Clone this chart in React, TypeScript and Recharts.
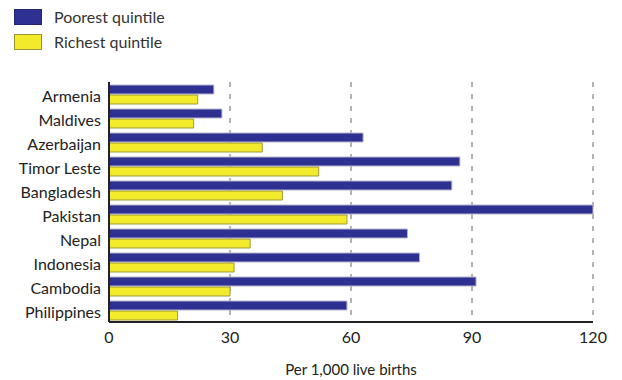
import React from 'react';
import { BarChart, Bar, XAxis, YAxis, CartesianGrid } from 'recharts';

const countries = [
  'Armenia', 'Maldives', 'Azerbaijan', 'Timor Leste', 'Bangladesh',
  'Pakistan', 'Nepal', 'Indonesia', 'Cambodia', 'Philippines',
];
const poorest = [26, 28, 63, 87, 85, 120, 74, 77, 91, 59];
const richest = [22, 21, 38, 52, 43, 59, 35, 31, 30, 17];
const xTicks = [0, 30, 60, 90, 120];

const BLUE = '#2e3192';
const YELLOW = '#f4ea2c';
const FONT = 'Lato, "Open Sans", sans-serif';

const chartData = countries.map((name, i) => ({
  name,
  poorest: poorest[i],
  richest: richest[i],
}));

const legendItems = [
  { label: 'Poorest quintile', fill: BLUE, border: '#23266e' },
  { label: 'Richest quintile', fill: YELLOW, border: '#9c9434' },
];

const LegendBox = () => (
  <div
    style={{
      position: 'absolute',
      left: 14,
      top: 4,
      fontFamily: FONT,
      fontSize: 16,
      color: '#333',
    }}
  >
    {legendItems.map(item => (
      <div key={item.label} style={{ display: 'flex', alignItems: 'center', height: 25 }}>
        <span
          style={{
            display: 'inline-block',
            width: 26,
            height: 14,
            background: item.fill,
            border: `1px solid ${item.border}`,
            marginRight: 12,
          }}
        />
        {item.label}
      </div>
    ))}
  </div>
);

export default function App() {
  return (
    <div style={{ position: 'absolute', left: 0, top: 0, width: 622, height: 380, background: '#fff' }}>
      <BarChart
        width={622}
        height={380}
        data={chartData}
        layout="vertical"
        barSize={9}
        barGap={1}
        margin={{ top: 82, right: 29, left: 0, bottom: 0 }}
      >
        <CartesianGrid horizontal={false} stroke="#666" strokeDasharray="5 7" />
        <XAxis
          type="number"
          domain={[0, 120]}
          ticks={xTicks}
          tickLine={false}
          tickMargin={4}
          height={58}
          axisLine={{ stroke: '#222', strokeWidth: 2 }}
          tick={{ fill: '#222', fontSize: 16, fontFamily: FONT }}
          label={{
            value: 'Per 1,000 live births',
            position: 'insideBottom',
            offset: 5,
            fill: '#222',
            fontSize: 15,
            fontFamily: FONT,
          }}
        />
        <YAxis
          type="category"
          dataKey="name"
          width={109}
          tickLine={false}
          axisLine={{ stroke: '#222', strokeWidth: 2 }}
          tick={{ fill: '#222', fontSize: 16, fontFamily: FONT, dy: 2 }}
          interval={0}
        />
        <Bar dataKey="poorest" fill={BLUE} stroke="#b5b5c8" strokeWidth={1} isAnimationActive={false} />
        <Bar dataKey="richest" fill={YELLOW} stroke="#a09a3a" strokeWidth={1} isAnimationActive={false} />
      </BarChart>
      <LegendBox />
    </div>
  );
}
